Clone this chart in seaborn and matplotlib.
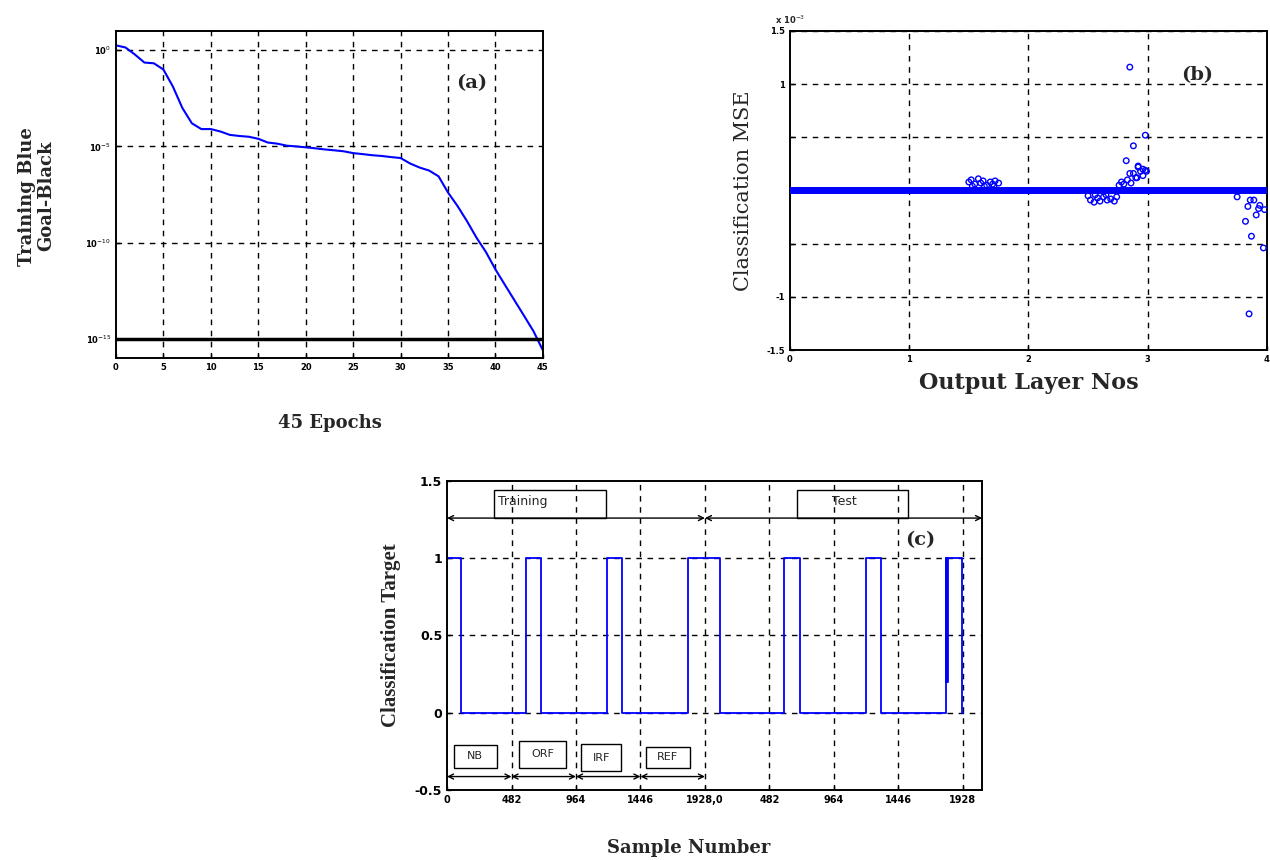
import numpy as np
import pandas as pd
import matplotlib
matplotlib.use("Agg")
import matplotlib.pyplot as plt
from matplotlib.patches import Rectangle
from matplotlib.ticker import NullLocator, FixedLocator
import seaborn as sns

# ---------------- data ----------------
# (a) training performance per epoch and the goal
epochs = list(range(46))
train_perf = [1.8, 1.4, 0.6, 0.23, 0.21, 0.1, 1.3e-2, 1e-3, 1.6e-4, 8e-5,
              8e-5, 6e-5, 4e-5, 3.5e-5, 3.2e-5, 2.5e-5, 1.6e-5, 1.4e-5, 1.1e-5, 1e-5,
              9e-6, 8e-6, 7e-6, 6.3e-6, 5.6e-6, 4.5e-6, 4e-6, 3.5e-6, 3.2e-6, 2.8e-6,
              2.5e-6, 1.3e-6, 8e-7, 5.6e-7, 2.8e-7, 4e-8, 8e-9, 1.3e-9, 1.8e-10, 3.2e-11,
              4e-12, 6.3e-13, 1e-13, 1.6e-14, 2.5e-15, 2.5e-16]
goal = 1e-15
a_yticks = [1e0, 1e-5, 1e-10, 1e-15]
a_yticklabels = ["10$^{0}$", "10$^{-5}$", "10$^{-10}$", "10$^{-15}$"]
a_xticks = [0, 5, 10, 15, 20, 25, 30, 35, 40, 45]

# (b) classification error per output: baseline band and deviating outputs
band_x = [0, 4]
band_y = [0, 0]
dev_x = [1.50, 1.52, 1.55, 1.58, 1.60, 1.62, 1.65, 1.68, 1.70, 1.72, 1.75, 1.53, 1.63, 1.71,
         2.50, 2.52, 2.55, 2.58, 2.60, 2.63, 2.66, 2.69, 2.72, 2.74, 2.56, 2.65,
         2.76, 2.78, 2.80, 2.83, 2.86, 2.88, 2.90, 2.92, 2.94, 2.96, 2.98,
         2.82, 2.88, 2.98, 2.92, 2.85, 2.96, 2.99, 2.91, 2.85,
         3.75, 3.82, 3.84, 3.86, 3.87, 3.89, 3.91, 3.93, 3.94, 3.97, 3.98, 3.85]
dev_y = [0.08, 0.10, 0.06, 0.11, 0.07, 0.09, 0.05, 0.08, 0.06, 0.09, 0.07, 0.04, 0.04, 0.04,
         -0.05, -0.09, -0.11, -0.07, -0.10, -0.06, -0.09, -0.08, -0.10, -0.06, -0.04, -0.04,
         0.05, 0.08, 0.06, 0.10, 0.07, 0.16, 0.12, 0.22, 0.18, 0.14, 0.19,
         0.28, 0.42, 0.52, 0.23, 0.16, 0.20, 0.18, 0.12, 1.16,
         -0.06, -0.29, -0.15, -0.09, -0.43, -0.09, -0.23, -0.17, -0.14, -0.54, -0.18, -1.16]
b_yticks = [-1.5, -1.0, -0.5, 0.0, 0.5, 1.0, 1.5]
b_yticklabels = ["-1.5", "-1", "", "", "", "1", "1.5"]
b_xticks = [0, 1, 2, 3, 4]

# (c) classification target over the training and test samples
sig_x = [0, 105, 590, 703, 1196, 1308, 1801, 2040, 2519, 2638, 3131, 3244,
         3729, 3733, 3737, 3741, 3745, 3849, 3856]
sig_y = [1, 0, 1, 0, 1, 0, 1, 0, 1, 0, 1, 0,
         1, 0.2, 1, 0.2, 1, 0, 0]
c_xticks = [0, 482, 964, 1446, 1928, 2410, 2892, 3374, 3856]
c_xticklabels = ["0", "482", "964", "1446", "1928,0", "482", "964", "1446", "1928"]
c_yticks = [-0.5, 0, 0.5, 1, 1.5]
c_yticklabels = ["-0.5", "0", "0.5", "1", "1.5"]
class_names = ["NB", "ORF", "IRF", "REF"]
class_edges = [0, 482, 964, 1446, 1928]

# ---------------- figure ----------------
sns.set_theme(style="ticks")
plt.rcParams["font.family"] = ["DejaVu Sans"]
plt.rcParams["axes.linewidth"] = 1.4
plt.rcParams["xtick.direction"] = "in"
plt.rcParams["ytick.direction"] = "in"

BLUE = "#0000ff"
grid_kw = dict(color="black", linestyle=(0, (4, 4)), linewidth=1.0)

fig = plt.figure(figsize=(12.7, 8.6), dpi=100)
fig.patch.set_facecolor("white")

ax_a = fig.add_axes([0.0913, 0.5837, 0.3362, 0.3802])
ax_b = fig.add_axes([0.6220, 0.5930, 0.3756, 0.3710])
ax_c = fig.add_axes([0.3520, 0.0814, 0.4213, 0.3593])

for ax in (ax_a, ax_b, ax_c):
    for s in ax.spines.values():
        s.set_visible(True)
        s.set_color("black")
    ax.tick_params(length=3, width=1, colors="black")

# ---- (a) ----
df_a = pd.DataFrame({"epoch": epochs, "perf": train_perf})
sns.lineplot(data=df_a, x="epoch", y="perf", ax=ax_a, color=BLUE, linewidth=1.5,
             estimator=None)
ax_a.set_yscale("log")
ax_a.axhline(goal, color="black", linewidth=2.5, zorder=3)
ax_a.set_xlim(0, 45)
ax_a.set_ylim(1e-16, 1e1)
ax_a.yaxis.set_major_locator(FixedLocator(a_yticks))
ax_a.yaxis.set_minor_locator(NullLocator())
ax_a.set_yticklabels(a_yticklabels, fontsize=6, fontweight="bold")
ax_a.set_xticks(a_xticks)
ax_a.set_xticklabels([str(t) for t in a_xticks], fontsize=6, fontweight="bold")
for t in a_xticks[1:-1]:
    ax_a.axvline(t, **grid_kw, zorder=0)
for t in a_yticks[:-1]:
    ax_a.axhline(t, **grid_kw, zorder=0)
ax_a.set_xlabel("")
ax_a.set_ylabel("")
ax_a.text(0.834, 0.84, "(a)", transform=ax_a.transAxes, fontsize=14,
          fontweight="bold", family="DejaVu Serif", ha="center", va="center")
fig.text(0.029, 0.772, "Training Blue\nGoal-Black", rotation=90, fontsize=13,
         fontweight="bold", family="DejaVu Serif", ha="center", va="center",
         linespacing=1.1)
fig.text(0.26, 0.508, "45 Epochs", fontsize=13, fontweight="bold",
         family="DejaVu Serif", ha="center", va="center")

# ---- (b) ----
df_band = pd.DataFrame({"x": band_x, "y": band_y})
sns.lineplot(data=df_band, x="x", y="y", ax=ax_b, color=BLUE, linewidth=5,
             estimator=None, zorder=3)
df_dev = pd.DataFrame({"x": dev_x, "y": dev_y})
sns.scatterplot(data=df_dev, x="x", y="y", ax=ax_b, marker="o", s=16,
                facecolor="none", edgecolor=BLUE, linewidth=1.0, zorder=4)
ax_b.set_xlim(0, 4)
ax_b.set_ylim(-1.5, 1.5)
ax_b.set_yticks(b_yticks)
ax_b.set_yticklabels(b_yticklabels, fontsize=6, fontweight="bold")
ax_b.set_xticks(b_xticks)
ax_b.set_xticklabels([str(t) for t in b_xticks], fontsize=6, fontweight="bold")
for t in b_xticks[1:-1]:
    ax_b.axvline(t, **grid_kw, zorder=0)
for t in b_yticks:
    ax_b.axhline(t, **grid_kw, zorder=0)
ax_b.set_xlabel("Output Layer Nos", fontsize=16, fontweight="bold",
                family="DejaVu Serif", labelpad=6)
ax_b.set_ylabel("Classification MSE", fontsize=15, family="DejaVu Serif",
                labelpad=10)
ax_b.text(0.0, 1.015, "x 10$^{-3}$", transform=ax_b.transAxes, fontsize=6,
          fontweight="bold", ha="center", va="bottom")
ax_b.text(0.853, 0.862, "(b)", transform=ax_b.transAxes, fontsize=14,
          fontweight="bold", family="DejaVu Serif", ha="center", va="center")

# ---- (c) ----
df_c = pd.DataFrame({"sample": sig_x, "target": sig_y})
sns.lineplot(data=df_c, x="sample", y="target", ax=ax_c, color=BLUE,
             linewidth=1.3, estimator=None, sort=False, drawstyle="steps-post")
ax_c.set_xlim(0, 4000)
ax_c.set_ylim(-0.5, 1.5)
ax_c.set_xticks(c_xticks)
ax_c.set_xticklabels(c_xticklabels, fontsize=7, fontweight="bold")
ax_c.set_yticks(c_yticks)
ax_c.set_yticklabels(c_yticklabels, fontsize=9, fontweight="bold")
for t in c_xticks[1:]:
    ax_c.axvline(t, **grid_kw, zorder=0)
for t in [0, 0.5, 1]:
    ax_c.axhline(t, **grid_kw, zorder=0)
ax_c.set_xlabel("")
ax_c.set_ylabel("Classification Target", fontsize=15, fontweight="bold",
                family="Liberation Serif", labelpad=10)
fig.text(0.542, 0.014, "Sample Number", fontsize=13, fontweight="bold",
         family="DejaVu Serif", ha="center", va="center")
ax_c.text(3535, 1.118, "(c)", fontsize=14, fontweight="bold",
          family="DejaVu Serif", ha="center", va="center")

arrow_kw = dict(arrowstyle="<->", color="black", lw=1.0, mutation_scale=9,
                shrinkA=0, shrinkB=0)
# training / test spans
ax_c.annotate("", xy=(0, 1.26), xytext=(1928, 1.26), arrowprops=arrow_kw)
ax_c.annotate("", xy=(1928, 1.26), xytext=(4000, 1.26), arrowprops=arrow_kw)
for x0, x1, label, tx in [(351, 1185, "Training", 380), (2616, 3445, "Test", 2877)]:
    ax_c.add_patch(Rectangle((x0, 1.26), x1 - x0, 0.18, fill=False,
                             edgecolor="black", linewidth=1.0, zorder=5))
    ax_c.text(tx, 1.37, label, fontsize=9, ha="left", va="center")

# class spans in the training half
box_geo = [(49, 374, -0.357, -0.209), (538, 889, -0.357, -0.18),
           (1001, 1304, -0.38, -0.20), (1487, 1813, -0.357, -0.22)]
for i, name in enumerate(class_names):
    ax_c.annotate("", xy=(class_edges[i], -0.413), xytext=(class_edges[i + 1], -0.413),
                  arrowprops=arrow_kw)
    x0, x1, y0, y1 = box_geo[i]
    ax_c.add_patch(Rectangle((x0, y0), x1 - x0, y1 - y0, fill=False,
                             edgecolor="black", linewidth=1.0, zorder=5))
    ax_c.text((x0 + x1) / 2, (y0 + y1) / 2, name, fontsize=8,
              ha="center", va="center")

fig.savefig("out.png", dpi=100, facecolor="white")
